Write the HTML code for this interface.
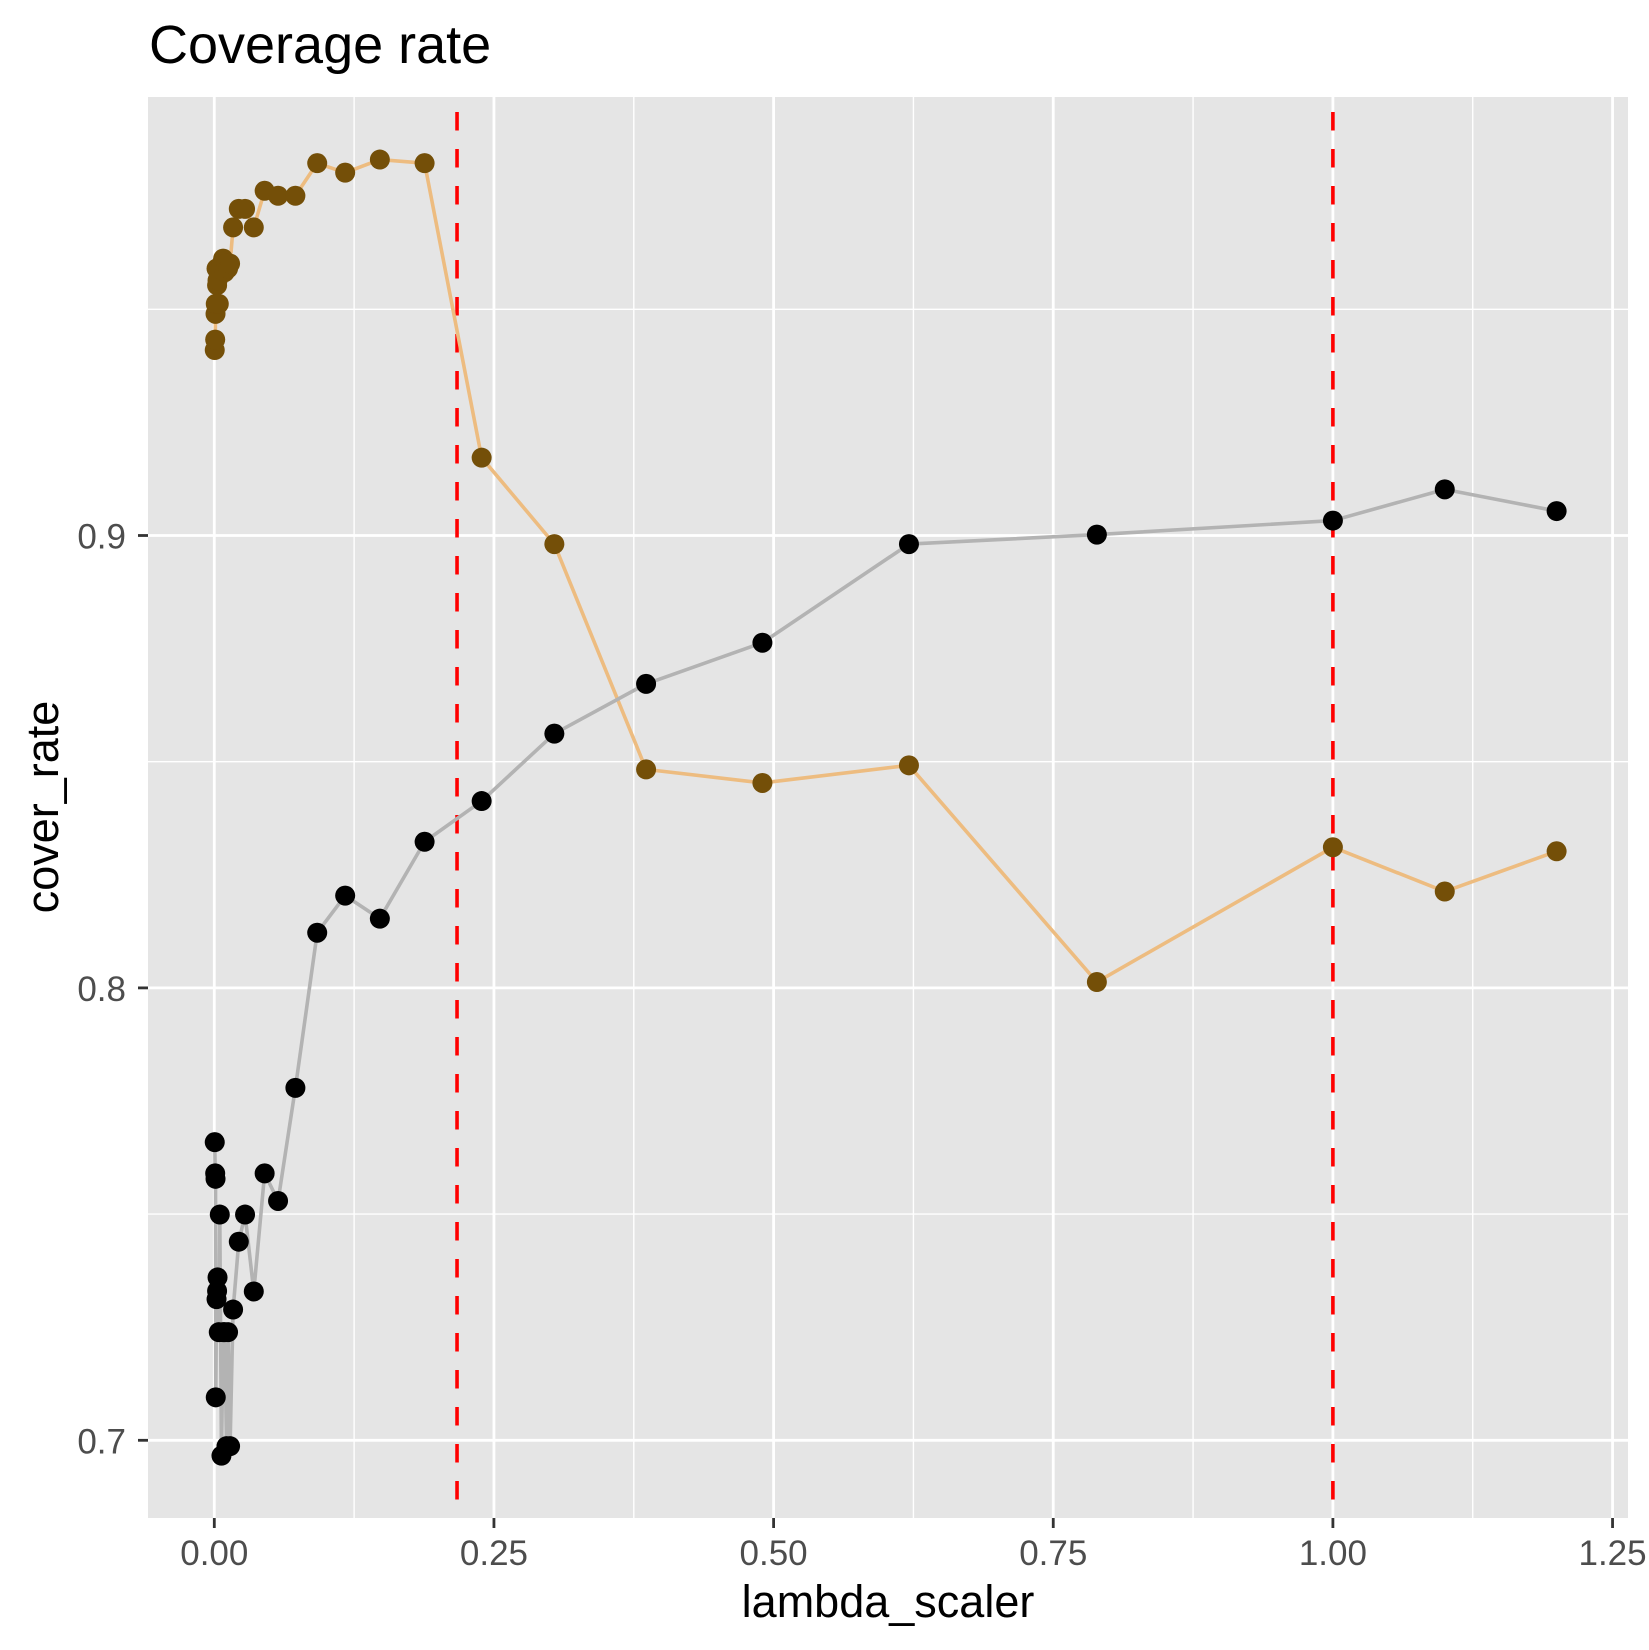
<!DOCTYPE html>
<html><head><meta charset="utf-8"><style>
html,body{margin:0;padding:0;background:#fff;}
svg{display:block;font-family:"Liberation Sans",Arial,sans-serif;}
</style></head><body>
<svg id="chart" width="1649" height="1650" viewBox="0 0 1649 1650" xmlns="http://www.w3.org/2000/svg">
<text x="149" y="63" font-size="54" fill="#000">Coverage rate</text>
<rect x="148" y="97" width="1480" height="1421" fill="#E5E5E5"/>
<g id="grid"></g>
<g id="vlines"></g>
<g id="series"></g>
<g id="axes"></g>
<text x="888" y="1617" font-size="45" text-anchor="middle" fill="#000">lambda_scaler</text>
<text transform="translate(58,807) rotate(-90)" font-size="45" text-anchor="middle" fill="#000">cover_rate</text>
</svg>
<script>
const lambdaValues = [0.0004,0.0008,0.0011,0.0013,0.002,0.0025,0.0029,0.004,0.0049,0.0064,0.0079,0.0094,0.0109,0.0123,0.0141,0.0168,0.0219,0.0275,0.0353,0.045,0.057,0.0725,0.092,0.117,0.148,0.188,0.239,0.304,0.386,0.49,0.621,0.789,1.0,1.1,1.2];
const orangeRates = [0.9410,0.9433,0.9490,0.9512,0.9590,0.9553,0.9564,0.9512,0.9590,0.9600,0.9612,0.9582,0.9601,0.9590,0.9601,0.9681,0.9722,0.9722,0.9681,0.9762,0.9751,0.9751,0.9823,0.9802,0.9831,0.9823,0.9172,0.8981,0.8483,0.8453,0.8492,0.8013,0.8311,0.8213,0.8302];
const blackRates = [0.7659,0.7590,0.7578,0.7095,0.7312,0.7330,0.7360,0.7239,0.7499,0.6966,0.7239,0.7239,0.6987,0.7239,0.6987,0.7289,0.7439,0.7499,0.7329,0.7590,0.7529,0.7779,0.8122,0.8204,0.8153,0.8323,0.8413,0.8562,0.8672,0.8763,0.8981,0.9002,0.9033,0.9102,0.9054];
const xTicks = [0, 0.25, 0.5, 0.75, 1.0, 1.25];
const xTickLabels = ["0.00","0.25","0.50","0.75","1.00","1.25"];
const xMinor = [0.125, 0.375, 0.625, 0.875, 1.125];
const yTicks = [0.7, 0.8, 0.9];
const yTickLabels = ["0.7","0.8","0.9"];
const yMinor = [0.75, 0.85, 0.95];
const refLines = [0.217, 1.0];

const NS = "http://www.w3.org/2000/svg";
const PL = 148, PR = 1628, PT = 97, PB = 1518;
function xs(v){ return 214.3 + v * 1118.6; }
function ys(v){ return 535.5 - (v - 0.9) * 4524; }
function mk(tag, attrs, parent){
  const e = document.createElementNS(NS, tag);
  for (const k in attrs) e.setAttribute(k, attrs[k]);
  parent.appendChild(e); return e;
}
const grid = document.getElementById('grid');
xMinor.forEach(v => {
  const l = mk('line', {x1:xs(v), x2:xs(v), y1:PT, y2:PB, stroke:'#fff', 'stroke-width':1.4}, grid);
  
  
});
yMinor.forEach(v => {
  const l = mk('line', {x1:PL, x2:PR, y1:ys(v), y2:ys(v), stroke:'#fff', 'stroke-width':1.4}, grid);
  
  
});
xTicks.forEach(v => {
  const l = mk('line', {x1:xs(v), x2:xs(v), y1:PT, y2:PB, stroke:'#fff', 'stroke-width':2.8}, grid);
  
  
});
yTicks.forEach(v => {
  const l = mk('line', {x1:PL, x2:PR, y1:ys(v), y2:ys(v), stroke:'#fff', 'stroke-width':2.8}, grid);
  
  
});
const vl = document.getElementById('vlines');
refLines.forEach(v => {
  const l = mk('line', {x1:xs(v), x2:xs(v), y1:PT, y2:PB, stroke:'#FF0000', 'stroke-width':3.6, 'stroke-dasharray':'18.5 18.5', 'stroke-dashoffset':'-15'}, vl);
  
  
});
const ser = document.getElementById('series');
function drawSeries(vals, lineColor, ptColor, name){
  const g = mk('g', {}, ser);
  
  
  const d = vals.map((v,i) => (i ? 'L' : 'M') + xs(lambdaValues[i]).toFixed(2) + ' ' + ys(v).toFixed(2)).join(' ');
  const p = mk('path', {d:d, fill:'none', stroke:lineColor, 'stroke-width':3.6, 'stroke-linejoin':'round'}, g);
  
  
  vals.forEach((v,i) => {
    const c = mk('circle', {cx:xs(lambdaValues[i]), cy:ys(v), r:10, fill:ptColor}, g);
    
    
  });
}
drawSeries(orangeRates, '#EDBC80', '#744F08', 'orange');
drawSeries(blackRates, '#B3B3B3', '#000000', 'black');
const ax = document.getElementById('axes');
xTicks.forEach((v,i) => {
  const t = mk('line', {x1:xs(v), x2:xs(v), y1:PB, y2:PB+10, stroke:'#333', 'stroke-width':2.8}, ax);
  
  
  const lb = mk('text', {x:xs(v), y:1565, 'font-size':35, 'text-anchor':'middle', fill:'#4D4D4D'}, ax);
  lb.textContent = xTickLabels[i];
  
  
});
yTicks.forEach((v,i) => {
  const t = mk('line', {x1:PL-10, x2:PL, y1:ys(v), y2:ys(v), stroke:'#333', 'stroke-width':2.8}, ax);
  
  
  const lb = mk('text', {x:126, y:ys(v)+13, 'font-size':35, 'text-anchor':'end', fill:'#4D4D4D'}, ax);
  lb.textContent = yTickLabels[i];
  
  
});
</script>
</body></html>
